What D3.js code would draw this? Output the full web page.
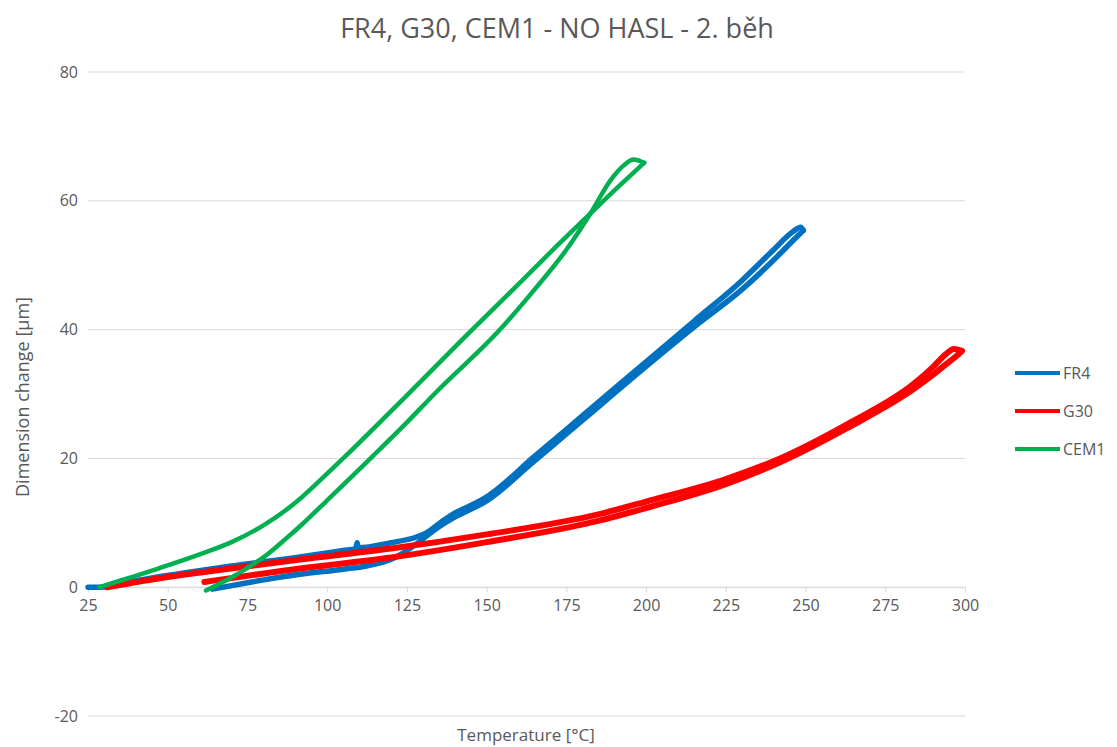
<!DOCTYPE html>
<html>
<head>
<meta charset="utf-8">
<script src="https://cdn.jsdelivr.net/npm/d3@7"></script>
<style>
  body { margin: 0; background: #fff; }
  text { font-family: "Open Sans", sans-serif; fill: #595959; }
</style>
</head>
<body>
<svg id="chart"></svg>
<script>
// set up constants
const width = 1117;
const height = 747;
const margin = { top: 72, right: 152, bottom: 31, left: 88 };

const title = 'FR4, G30, CEM1 - NO HASL - 2. běh';
const xTicks = [25, 50, 75, 100, 125, 150, 175, 200, 225, 250, 275, 300];
const yTicks = [-20, 0, 20, 40, 60, 80];
const seriesNames = ['FR4', 'G30', 'CEM1'];
const seriesColors = ['#0070c0', '#ff0000', '#00b050'];

// FR4 - first branch (starts at 25 °C) and second branch (starts at 64 °C)
const fr4HeatT = [25, 29, 40, 55, 70, 91.4, 105, 109, 109.4, 109.8, 120, 128, 131, 136, 140, 145, 149, 165, 180, 200, 215, 230, 240, 246, 248.5, 249.3];
const fr4HeatV = [0, 0, 1, 2.2, 3.3, 4.7, 5.7, 6.0, 6.9, 6.1, 6.9, 7.8, 8.4, 10.2, 11.5, 12.7, 13.7, 20.3, 26.6, 35, 41.3, 47.6, 52.4, 55.2, 55.9, 55.4];
const fr4CoolT = [64, 75, 91.4, 105, 112.4, 120.8, 128.2, 131, 136, 140, 145, 149, 165, 180, 200, 215, 230, 240, 246, 249.3];
const fr4CoolV = [-0.3, 0.7, 2.0, 2.8, 3.3, 4.5, 6.8, 7.9, 9.7, 10.9, 12.1, 13.1, 19.6, 25.9, 34.3, 40.4, 46.2, 50.8, 53.8, 55.4];

// G30
const g30HeatT = [31, 45, 62, 91.5, 120, 150, 185, 200, 225, 242, 263, 284, 290, 294, 296.5, 299];
const g30HeatV = [0, 1.2, 2.4, 4.3, 6.0, 8.2, 11.3, 13.3, 16.8, 20.0, 25.3, 31.6, 34.2, 36.2, 37.0, 36.7];
const g30CoolT = [61.5, 91.5, 120, 150, 185, 200, 225, 242, 263, 284, 290, 295, 298, 299];
const g30CoolV = [0.8, 2.9, 4.6, 7.0, 10.3, 12.3, 16.0, 19.4, 24.7, 30.8, 33.0, 35.0, 36.2, 36.7];

// CEM1
const cem1HeatT = [28.5, 35, 47, 60, 70, 80, 90, 98, 105, 125, 145.5, 153.7, 161.5, 170, 182.5, 192, 197, 199.4];
const cem1HeatV = [0, 1, 2.9, 5.1, 7.0, 9.6, 13.1, 16.7, 20, 29.8, 40, 44, 47.8, 52, 58, 62.5, 64.8, 65.9];
const cem1CoolT = [62, 70, 75, 81, 87, 92, 100, 114.4, 125, 134, 154.2, 165, 175, 182.5, 189, 193, 196, 199.4];
const cem1CoolV = [-0.5, 1.5, 3.0, 5.0, 7.5, 9.7, 13.5, 20.4, 25.6, 30.2, 40, 46.2, 52.4, 58, 63.3, 65.5, 66.4, 65.9];

const zip = (ts, vs) => ts.map((t, i) => ({ t, v: vs[i] }));
const series = [
  { name: 'FR4', width: 5.5, branches: [zip(fr4HeatT, fr4HeatV), zip(fr4CoolT, fr4CoolV)] },
  { name: 'G30', width: 6, branches: [zip(g30HeatT, g30HeatV), zip(g30CoolT, g30CoolV)] },
  { name: 'CEM1', width: 4.5, branches: [zip(cem1HeatT, cem1HeatV), zip(cem1CoolT, cem1CoolV)] }
];

const svg = d3.select('#chart')
  .attr('width', width)
  .attr('height', height);

// scales
const xScale = d3.scaleLinear()
  .domain([25, 300])
  .range([margin.left, width - margin.right]);

const yScale = d3.scaleLinear()
  .domain([-20, 80])
  .range([height - margin.bottom, margin.top]);

const color = d3.scaleOrdinal().domain(seriesNames).range(seriesColors);

// gridlines
svg.append('g')
  .selectAll('line')
  .data(yTicks)
  .enter()
  .append('line')
  .attr('x1', xScale(25))
  .attr('x2', xScale(300))
  .attr('y1', d => yScale(d))
  .attr('y2', d => yScale(d))
  .attr('stroke', '#d9d9d9')
  .attr('stroke-width', 1);

// x axis on the zero line
const xAxis = d3.axisBottom(xScale)
  .tickValues(xTicks)
  .tickSize(5)
  .tickPadding(7);

const gx = svg.append('g')
  .attr('transform', `translate(0, ${yScale(0)})`)
  .call(xAxis);
gx.select('.domain').attr('stroke', '#d9d9d9');
gx.selectAll('.tick line').attr('stroke', '#d9d9d9');
gx.selectAll('.tick text').style('font-size', '16px').attr('fill', '#595959');

// y axis labels
const yAxis = d3.axisLeft(yScale)
  .tickValues(yTicks)
  .tickFormat(d => String(d))
  .tickSize(0)
  .tickPadding(10);

const gy = svg.append('g')
  .attr('transform', `translate(${xScale(25)}, 0)`)
  .call(yAxis);
gy.select('.domain').remove();
gy.selectAll('.tick text').style('font-size', '16px').attr('fill', '#595959');

// lines
const line = d3.line()
  .x(d => xScale(d.t))
  .y(d => yScale(d.v))
  .curve(d3.curveMonotoneX);

series.forEach(s => {
  svg.append('g')
    .selectAll('path')
    .data(s.branches)
    .enter()
    .append('path')
    .attr('d', line)
    .attr('fill', 'none')
    .attr('stroke', color(s.name))
    .attr('stroke-width', s.width)
    .attr('stroke-linecap', 'round')
    .attr('stroke-linejoin', 'round');
});

// title
svg.append('text')
  .attr('x', 557)
  .attr('y', 38)
  .attr('text-anchor', 'middle')
  .style('font-size', '27px')
  .text(title);

// axis titles
svg.append('text')
  .attr('x', 526)
  .attr('y', 741)
  .attr('text-anchor', 'middle')
  .style('font-size', '17px')
  .text('Temperature [°C]');

svg.append('text')
  .attr('transform', 'translate(29, 397) rotate(-90)')
  .attr('text-anchor', 'middle')
  .style('font-size', '18px')
  .text('Dimension change [µm]');

// legend
const legend = svg.append('g')
  .selectAll('g')
  .data(seriesNames)
  .enter()
  .append('g')
  .attr('transform', (d, i) => `translate(1015, ${373 + i * 38})`);

legend.append('line')
  .attr('x1', 0)
  .attr('x2', 45)
  .attr('stroke', d => color(d))
  .attr('stroke-width', 4);

legend.append('text')
  .attr('x', 48)
  .attr('dy', '0.35em')
  .style('font-size', '16px')
  .text(d => d);
</script>
</body>
</html>
